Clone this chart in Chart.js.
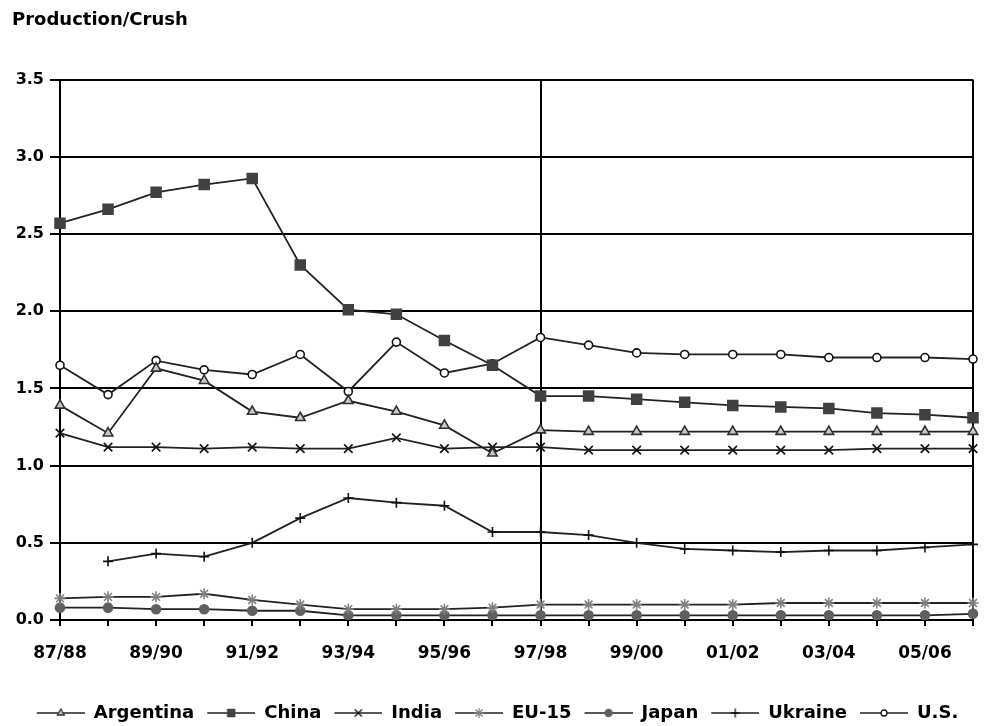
<!DOCTYPE html>
<html>
<head>
<meta charset="utf-8">
<script src="https://cdn.jsdelivr.net/npm/chart.js@4.4.1/dist/chart.umd.min.js"></script>
<style>
  body { margin: 0; background: #fff; }
  #wrap { width: 992px; height: 726px; position: relative; }
</style>
</head>
<body>
<div id="wrap"><canvas id="crushChart"></canvas></div>
<script>
const years = ["87/88", "88/89", "89/90", "90/91", "91/92", "92/93", "93/94", "94/95", "95/96", "96/97",
               "97/98", "98/99", "99/00", "00/01", "01/02", "02/03", "03/04", "04/05", "05/06", "06/07"];
const argentina = [1.39, 1.21, 1.63, 1.55, 1.35, 1.31, 1.42, 1.35, 1.26, 1.08, 1.23, 1.22, 1.22, 1.22, 1.22, 1.22, 1.22, 1.22, 1.22, 1.22];
const china = [2.57, 2.66, 2.77, 2.82, 2.86, 2.30, 2.01, 1.98, 1.81, 1.65, 1.45, 1.45, 1.43, 1.41, 1.39, 1.38, 1.37, 1.34, 1.33, 1.31];
const india = [1.21, 1.12, 1.12, 1.11, 1.12, 1.11, 1.11, 1.18, 1.11, 1.12, 1.12, 1.10, 1.10, 1.10, 1.10, 1.10, 1.10, 1.11, 1.11, 1.11];
const eu15 = [0.14, 0.15, 0.15, 0.17, 0.13, 0.10, 0.07, 0.07, 0.07, 0.08, 0.10, 0.10, 0.10, 0.10, 0.10, 0.11, 0.11, 0.11, 0.11, 0.11];
const japan = [0.08, 0.08, 0.07, 0.07, 0.06, 0.06, 0.03, 0.03, 0.03, 0.03, 0.03, 0.03, 0.03, 0.03, 0.03, 0.03, 0.03, 0.03, 0.03, 0.04];
const ukraine = [null, 0.38, 0.43, 0.41, 0.50, 0.66, 0.79, 0.76, 0.74, 0.57, 0.57, 0.55, 0.50, 0.46, 0.45, 0.44, 0.45, 0.45, 0.47, 0.49];
const us = [1.65, 1.46, 1.68, 1.62, 1.59, 1.72, 1.48, 1.80, 1.60, 1.66, 1.83, 1.78, 1.73, 1.72, 1.72, 1.72, 1.70, 1.70, 1.70, 1.69];
const yTicks = [0, 0.5, 1.0, 1.5, 2.0, 2.5, 3.0, 3.5];

const FONT = "'DejaVu Sans', sans-serif";
const LINE = "#222222";

function series(label, data, style, radius, fill, edge, legendRadius) {
    return {
        label: label,
        data: data,
        borderColor: LINE,
        borderWidth: 1.8,
        tension: 0,
        pointStyle: style,
        pointRadius: radius,
        pointHoverRadius: radius,
        pointBackgroundColor: fill,
        pointBorderColor: edge,
        pointBorderWidth: 1.6,
        legendRadius: legendRadius
    };
}

const datasets = [
    series("Argentina", argentina, "triangle", 5.5, "#c8c8c8", "#303030", 4),
    series("China", china, "rect", 7, "#404040", "#404040", 5),
    series("India", india, "crossRot", 6, "#000", "#111", 5),
    series("EU-15", eu15, "star", 5.5, "#808080", "#808080", 5),
    series("Japan", japan, "circle", 4.5, "#606060", "#606060", 3.5),
    series("Ukraine", ukraine, "cross", 5, "#000", "#111", 4.5),
    series("U.S.", us, "circle", 4, "#fff", "#111", 3)
];

// small line + marker images for the legend
function legendImage(ds) {
    const c = document.createElement("canvas");
    c.width = 58;
    c.height = 14;
    const g = c.getContext("2d");
    g.strokeStyle = LINE;
    g.lineWidth = 1.5;
    g.beginPath();
    g.moveTo(10, 7);
    g.lineTo(58, 7);
    g.stroke();
    g.fillStyle = ds.pointBackgroundColor;
    g.strokeStyle = ds.pointBorderColor;
    g.lineWidth = 1.3;
    Chart.helpers.drawPoint(g, { pointStyle: ds.pointStyle, rotation: 0, radius: ds.legendRadius, borderWidth: 1.3 }, 34, 7);
    return c;
}

const ctx = document.getElementById("crushChart").getContext("2d");
new Chart(ctx, {
    type: "line",
    data: { labels: years, datasets: datasets },
    options: {
        responsive: true,
        maintainAspectRatio: false,
        animation: false,
        layout: { padding: { left: 12, right: 19, top: 0, bottom: -6 } },
        plugins: {
            title: {
                display: true,
                text: "Production/Crush",
                align: "start",
                color: "#000",
                font: { family: FONT, size: 18, weight: "bold" },
                padding: { top: 10, bottom: 48 }
            },
            legend: {
                position: "bottom",
                labels: {
                    color: "#000",
                    font: { family: FONT, size: 18, weight: "bold" },
                    usePointStyle: true,
                    pointStyleWidth: 58,
                    boxHeight: 14,
                    padding: 3,
                    generateLabels: chart => chart.data.datasets.map((ds, i) => ({
                        text: ds.label,
                        pointStyle: legendImage(ds),
                        fillStyle: ds.pointBackgroundColor,
                        strokeStyle: LINE,
                        lineWidth: 0,
                        fontColor: "#000",
                        hidden: false,
                        datasetIndex: i
                    }))
                }
            },
            tooltip: { enabled: false }
        },
        scales: {
            x: {
                offset: false,
                border: { color: "#000", width: 2 },
                grid: {
                    color: c => (c.index === 10 || c.index === 19) ? "#000" : "rgba(0,0,0,0)",
                    lineWidth: 2,
                    tickColor: "#000",
                    tickWidth: 2,
                    tickLength: 6
                },
                ticks: {
                    autoSkip: false,
                    maxRotation: 0,
                    padding: 17,
                    color: "#000",
                    font: { family: FONT, size: 17, weight: "bold" },
                    callback: function (value, index) {
                        return index % 2 === 0 ? this.getLabelForValue(value) : "";
                    }
                },
                afterFit: scale => { scale.height = 81; }
            },
            y: {
                min: 0,
                max: 3.5,
                border: { color: "#000", width: 2 },
                grid: {
                    color: "#000",
                    lineWidth: 2,
                    tickColor: "#000",
                    tickWidth: 2,
                    tickLength: 10
                },
                afterBuildTicks: scale => { scale.ticks = yTicks.map(v => ({ value: v })); },
                ticks: {
                    padding: 6,
                    color: "#000",
                    font: { family: FONT, size: 16, weight: "bold" },
                    callback: v => v.toFixed(1)
                },
                afterFit: scale => { scale.width = 48; }
            }
        }
    }
});
</script>
</body>
</html>
